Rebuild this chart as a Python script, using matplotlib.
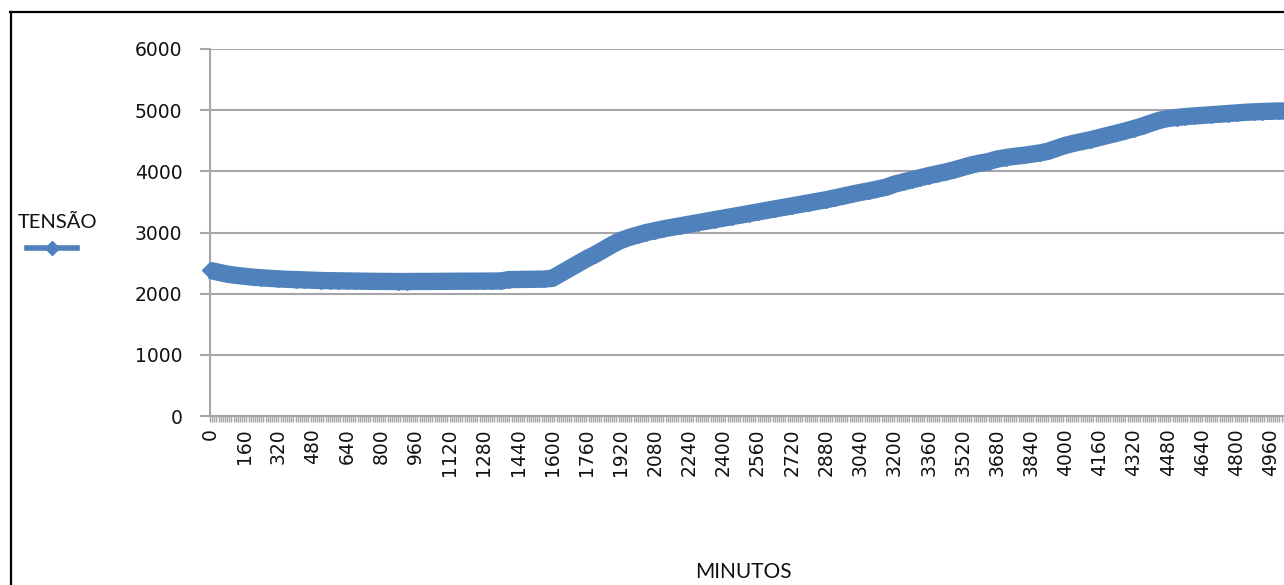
import matplotlib
matplotlib.use("Agg")
import matplotlib.pyplot as plt
from matplotlib.lines import Line2D
from matplotlib.ticker import MultipleLocator

# Voltage readings (TENSÃO) sampled every 40 minutes
minutos = list(range(0, 5041, 40))
tensao = [
    2380, 2350, 2320, 2300, 2285, 2270, 2260, 2250, 2242, 2235,
    2230, 2225, 2220, 2215, 2212, 2210, 2208, 2206, 2204, 2202,
    2200, 2200, 2198, 2198, 2200, 2200, 2200, 2202, 2202, 2204,
    2204, 2205, 2205, 2206, 2208, 2230, 2232, 2234, 2236, 2238,
    2250, 2330, 2410, 2490, 2570, 2640, 2720, 2800, 2870, 2920,
    2960, 3000, 3030, 3060, 3085, 3110, 3135, 3160, 3185, 3210,
    3235, 3260, 3285, 3310, 3335, 3360, 3385, 3410, 3435, 3460,
    3485, 3510, 3535, 3565, 3595, 3625, 3655, 3680, 3710, 3740,
    3790, 3825, 3860, 3895, 3930, 3960, 3990, 4025, 4065, 4105,
    4135, 4160, 4200, 4225, 4245, 4260, 4280, 4300, 4330, 4380,
    4425, 4460, 4490, 4520, 4555, 4590, 4625, 4660, 4700, 4740,
    4790, 4835, 4865, 4880, 4895, 4905, 4915, 4925, 4935, 4945,
    4955, 4965, 4972, 4978, 4983, 4986, 4988,
]

serie_nome = "TENSÃO"
eixo_x_nome = "MINUTOS"

plt.rcParams["font.family"] = ["DejaVu Sans"]

W, H = 1284, 585
cor = "#4F81BD"
cinza = "#A6A6A6"

fig = plt.figure(figsize=(W / 100, H / 100), dpi=100)
fig.patch.set_facecolor("white")

# outer chart border (only top and left edges fall inside the image)
fig.add_artist(Line2D([10 / W, 1.0], [1 - 12 / H, 1 - 12 / H],
                      transform=fig.transFigure, color="black", lw=1.6))
fig.add_artist(Line2D([11 / W, 11 / W], [0, 1 - 12 / H],
                      transform=fig.transFigure, color="black", lw=1.6))

left, right_px = 210, 1288
bottom_px, top_px = 416, 49
ax = fig.add_axes([left / W, (H - bottom_px) / H,
                   (right_px - left) / W, (bottom_px - top_px) / H])
ax.set_xlim(0, 5040)
ax.set_ylim(0, 6000)

# thick series band with diamond markers
ax.plot(minutos, tensao, color=cor, lw=12.5, marker="D", ms=8,
        mec=cor, mfc=cor, mew=1, solid_joinstyle="round",
        solid_capstyle="butt", zorder=3, clip_on=False)

for s in ("top", "right"):
    ax.spines[s].set_visible(False)
for s in ("left", "bottom"):
    ax.spines[s].set_color(cinza)
    ax.spines[s].set_linewidth(1.5)

ax.yaxis.set_major_locator(MultipleLocator(1000))
ax.grid(axis="y", color=cinza, lw=1.5)
ax.set_axisbelow(True)

ax.xaxis.set_major_locator(MultipleLocator(160))
ax.xaxis.set_minor_locator(MultipleLocator(10))
ax.xaxis.set_major_formatter(lambda v, p: f"{int(round(v))}")
ax.tick_params(axis="x", which="both", direction="out", length=4,
               width=1, color=cinza)
ax.tick_params(axis="x", which="major", labelrotation=90, pad=5,
               labelsize=13.5, labelcolor="#111111")
ax.tick_params(axis="y", which="major", direction="out", length=7,
               width=1.5, color=cinza, pad=13, labelsize=13.5,
               labelcolor="#111111")

# legend on the left
fig.text(58 / W, 1 - 222 / H, serie_nome, ha="center", va="center",
         fontsize=14.5, family="Lato", color="#111111")
ly = 1 - 248 / H
fig.add_artist(Line2D([27 / W, 77 / W], [ly, ly], transform=fig.transFigure,
                      color=cor, lw=4))
fig.add_artist(Line2D([52 / W], [ly], transform=fig.transFigure,
                      color=cor, marker="D", ms=7, mec=cor, mfc=cor))

fig.text(743 / W, 1 - 572 / H, eixo_x_nome, ha="center", va="center",
         fontsize=15, family="Lato", color="#111111")

fig.savefig("out.png", dpi=100, facecolor="white")
